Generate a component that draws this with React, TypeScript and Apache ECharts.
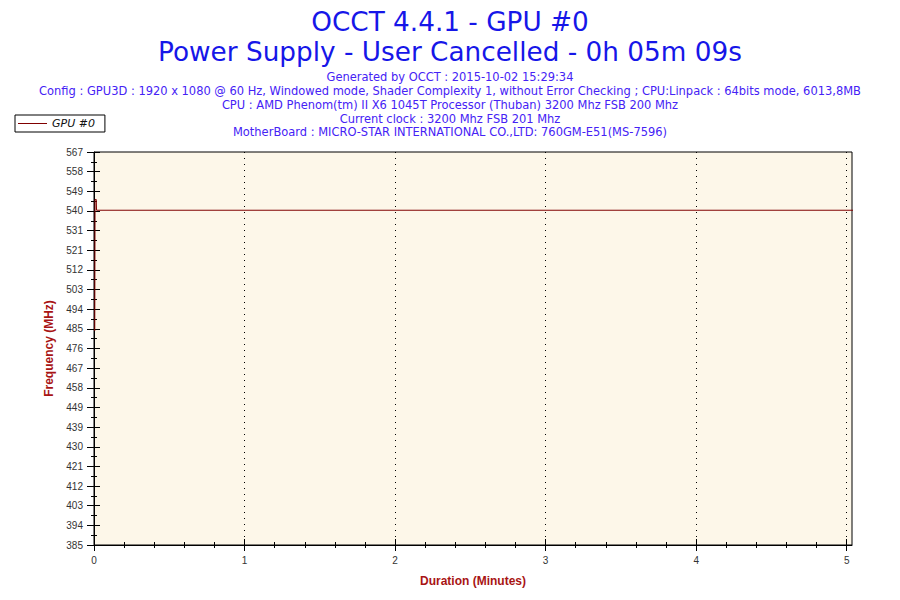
import { useEffect, useRef } from "react";
import * as echarts from "echarts";

const titleLines = ["OCCT 4.4.1 - GPU #0", "Power Supply - User Cancelled - 0h 05m 09s"];
const infoLines = [
  "Generated by OCCT : 2015-10-02 15:29:34",
  "Config : GPU3D : 1920 x 1080 @ 60 Hz, Windowed mode, Shader Complexity 1, without Error Checking ; CPU:Linpack : 64bits mode, 6013,8MB",
  "CPU : AMD Phenom(tm) II X6 1045T Processor (Thuban) 3200 Mhz FSB 200 Mhz",
  "Current clock : 3200 Mhz FSB 201 Mhz",
  "MotherBoard : MICRO-STAR INTERNATIONAL CO.,LTD: 760GM-E51(MS-7596)",
];
const seriesName = "GPU #0";
const xAxisName = "Duration (Minutes)";
const yAxisName = "Frequency (MHz)";
const timeMinutes = [0.005, 0.007, 0.015, 0.017, 5.15];
const frequencyMHz = [484, 545, 545, 540, 540];
const xTickLabels = [0, 1, 2, 3, 4, 5];
const yTickLabels = [385, 394, 403, 412, 421, 430, 439, 449, 458, 467, 476, 485, 494, 503, 512, 521, 531, 540, 549, 558, 567];

const X_MAX = 5.035;
const Y_MIN = 384.72;
const Y_MAX = 567.02;

const TITLE_COLOR = "#1616e8";
const INFO_COLOR = "#4522f5";
const NAME_COLOR = "#a81414";
const LINE_COLOR = "#800000";
const PLOT_BG = "#fdf7e9";

export default function App() {
  const ref = useRef<HTMLDivElement>(null);
  useEffect(() => {
    if (!ref.current) return;
    const chart = echarts.init(ref.current, null, { renderer: "svg" });
    const yStep = (Y_MAX - Y_MIN) / (yTickLabels.length - 1);
    const yMajor = yTickLabels.map((_, i) => Y_MIN + i * yStep);
    const yMinor = yTickLabels.slice(1).map((_, i) => Y_MIN + (i + 0.5) * yStep);
    const xMajor = xTickLabels.slice();
    const xMinor: number[] = [];
    for (let i = 0; i < xTickLabels.length - 1; i++) {
      for (let k = 1; k < 5; k++) xMinor.push(xTickLabels[i] + k * 0.2);
    }
    const yLabel = (v: number) => {
      const idx = Math.round((v - Y_MIN) / yStep);
      return yTickLabels[idx] !== undefined ? String(yTickLabels[idx]) : "";
    };
    const tickStyle = { color: "#000", width: 1 };
    const yBase: any = {
      type: "value",
      min: Y_MIN,
      max: Y_MAX,
      position: "left",
      splitLine: { show: false },
      axisLabel: { show: false },
      axisLine: { show: false },
    };
    const xBase: any = {
      type: "value",
      min: 0,
      max: X_MAX,
      position: "bottom",
      splitLine: { show: false },
      axisLabel: { show: false },
      axisLine: { show: false },
    };
    const labelFont = { color: "#333", fontSize: 10, fontFamily: "Liberation Sans, Arial, sans-serif" };
    const nameFont = { color: NAME_COLOR, fontSize: 12, fontWeight: "bold", fontFamily: "Liberation Sans, Arial, sans-serif" };
    const graphics: any[] = [];
    const titleY = [21.7, 51.8];
    titleLines.forEach((t, i) =>
      graphics.push({
        type: "text",
        x: 450,
        y: titleY[i],
        style: { text: t, fill: TITLE_COLOR, font: "26.3px 'DejaVu Sans', Verdana, sans-serif", align: "center", verticalAlign: "middle" },
      })
    );
    infoLines.forEach((t, i) =>
      graphics.push({
        type: "text",
        x: 450,
        y: 77.2 + i * 13.77,
        style: { text: t, fill: INFO_COLOR, font: "11.46px 'DejaVu Sans', Verdana, sans-serif", align: "center", verticalAlign: "middle" },
      })
    );
    chart.setOption({
      animation: false,
      backgroundColor: "#fff",
      graphic: graphics,
      legend: {
        left: 15,
        top: 115,
        padding: [3, 10, 3, 3],
        borderColor: "#000",
        borderWidth: 1,
        backgroundColor: "#fff",
        itemWidth: 29,
        itemHeight: 1,
        data: [{ name: seriesName, icon: "rect" }],
        textStyle: { fontStyle: "italic", fontSize: 11, color: "#111", fontFamily: "'DejaVu Sans', Verdana, sans-serif" },
      },
      grid: {
        left: 94,
        right: 48,
        top: 152,
        bottom: 55,
        show: true,
        backgroundColor: PLOT_BG,
        borderColor: "#000",
        borderWidth: 1,
      },
      xAxis: [
        {
          ...xBase,
          interval: 1,
          axisLine: { show: true, lineStyle: { color: "#000", width: 1 } },
          axisTick: { show: true, inside: false, length: 6, customValues: xMajor, lineStyle: tickStyle },
          axisLabel: { show: true, customValues: xMajor, margin: 10, formatter: (v: number) => String(Math.round(v)), ...labelFont },
          splitLine: { show: true, lineStyle: { color: "#000", width: 1, type: [1, 5] } },
          name: xAxisName,
          nameLocation: "middle",
          nameGap: 30,
          nameTextStyle: nameFont,
        },
        { ...xBase, axisTick: { show: true, inside: true, length: 6, customValues: xMajor, lineStyle: tickStyle } },
        { ...xBase, axisTick: { show: true, inside: false, length: 3, customValues: xMinor, lineStyle: tickStyle } },
        { ...xBase, axisTick: { show: true, inside: true, length: 3, customValues: xMinor, lineStyle: tickStyle } },
      ],
      yAxis: [
        {
          ...yBase,
          axisLine: { show: true, lineStyle: { color: "#000", width: 1 } },
          axisTick: { show: true, inside: false, length: 7, customValues: yMajor, lineStyle: tickStyle },
          axisLabel: { show: true, customValues: yMajor, margin: 11, formatter: yLabel, ...labelFont },
          name: yAxisName,
          nameLocation: "middle",
          nameGap: 34,
          nameTextStyle: nameFont,
        },
        { ...yBase, axisTick: { show: true, inside: true, length: 6, customValues: yMajor, lineStyle: tickStyle } },
        { ...yBase, axisTick: { show: true, inside: false, length: 3, customValues: yMinor, lineStyle: tickStyle } },
        { ...yBase, axisTick: { show: true, inside: true, length: 3, customValues: yMinor, lineStyle: tickStyle } },
      ],
      series: [
        {
          type: "line",
          name: seriesName,
          xAxisIndex: 0,
          yAxisIndex: 0,
          data: timeMinutes.map((t, i) => [t, frequencyMHz[i]]),
          showSymbol: false,
          symbol: "none",
          clip: true,
          color: LINE_COLOR,
          lineStyle: { width: 1, color: LINE_COLOR },
          itemStyle: { color: LINE_COLOR },
        },
      ],
    });
    return () => chart.dispose();
  }, []);
  return <div ref={ref} style={{ position: "fixed", left: 0, top: 0, width: 900, height: 600 }} />;
}
